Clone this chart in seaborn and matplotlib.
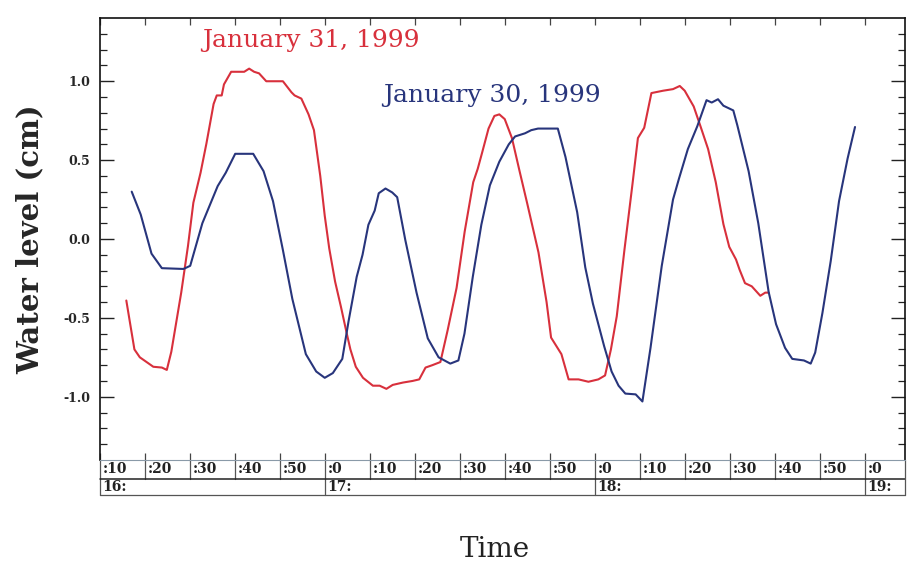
import matplotlib
matplotlib.use('Agg')
import pandas as pd
import matplotlib.pyplot as plt
import seaborn as sns
from matplotlib.transforms import blended_transform_factory

# water level, time in minutes after 16:00
jan31_time = [15.9, 17.7, 18.9, 21.9, 23.8, 24.9, 25.9, 28.1, 29.6, 30.8,
              32.4, 33.7, 35.3, 36.0, 37.1, 37.6, 39.2, 42.1, 43.2, 44.3,
              45.4, 47.0, 50.7, 52.6, 53.3, 54.8, 56.4, 57.6, 59.0, 60.0,
              61.0, 62.3, 63.6, 64.9, 65.7, 66.9, 68.5, 70.7, 72.2, 73.7,
              75.1, 77.4, 79.5, 81.0, 82.4, 83.9, 85.7, 87.3, 89.3, 91.1,
              93.0, 94.0, 95.0, 96.4, 97.7, 98.8, 100.0, 101.6, 103.3, 105.0,
              107.5, 109.3, 110.3, 112.6, 114.2, 116.4, 118.6, 120.8, 122.3, 123.6,
              124.9, 126.6, 128.4, 129.6, 131.0, 132.6, 135.2, 137.4, 138.9, 140.0,
              142.0, 143.5, 145.2, 146.9, 148.6, 149.9, 151.4, 152.2, 153.4, 154.9,
              156.8, 157.9, 158.65]
jan31_level = [-0.39, -0.70, -0.75, -0.81, -0.815, -0.83, -0.715, -0.34, -0.045, 0.23,
               0.42, 0.605, 0.856, 0.91, 0.91, 0.98, 1.06, 1.06, 1.08, 1.06,
               1.05, 1.00, 1.00, 0.93, 0.91, 0.89, 0.79, 0.69, 0.40, 0.147,
               -0.06, -0.27, -0.43, -0.60, -0.70, -0.81, -0.88, -0.93, -0.93, -0.95,
               -0.925, -0.91, -0.90, -0.89, -0.815, -0.80, -0.78, -0.58, -0.31, 0.047,
               0.36, 0.445, 0.55, 0.70, 0.78, 0.79, 0.76, 0.64, 0.43, 0.225,
               -0.085, -0.40, -0.625, -0.73, -0.89, -0.89, -0.905, -0.89, -0.865, -0.70,
               -0.49, -0.07, 0.35, 0.64, 0.705, 0.925, 0.94, 0.95, 0.97, 0.94,
               0.84, 0.715, 0.57, 0.36, 0.094, -0.05, -0.13, -0.195, -0.28, -0.30,
               -0.36, -0.34, -0.34]

jan30_time = [17.1, 19.1, 21.5, 23.8, 28.6, 30.1, 32.8, 36.2, 38.0, 40.1,
              44.1, 46.4, 48.5, 50.7, 52.8, 55.8, 58.1, 60.0, 61.8, 63.9,
              65.3, 67.1, 68.4, 69.7, 71.1, 72.0, 73.5, 75.0, 76.1, 77.9,
              80.4, 82.9, 85.3, 87.9, 89.7, 91.05, 92.9, 94.8, 96.7, 98.8,
              100.9, 102.3, 104.5, 105.9, 107.4, 111.8, 113.5, 116.1, 117.9, 119.6,
              122.1, 123.75, 125.3, 126.8, 129.1, 130.6, 132.4, 134.9, 137.4, 138.7,
              140.7, 142.8, 144.85, 146.0, 147.4, 148.6, 150.8, 151.7, 154.2, 156.35,
              158.65, 160.3, 162.3, 163.9, 166.5, 168.0, 169.0, 170.6, 172.45, 174.3,
              176.2, 177.85]
jan30_level = [0.30, 0.155, -0.093, -0.185, -0.19, -0.17, 0.10, 0.335, 0.42, 0.54,
               0.54, 0.43, 0.24, -0.07, -0.38, -0.73, -0.84, -0.88, -0.85, -0.76,
               -0.52, -0.24, -0.10, 0.09, 0.18, 0.29, 0.32, 0.295, 0.265, -0.006,
               -0.34, -0.63, -0.75, -0.79, -0.77, -0.60, -0.24, 0.09, 0.34, 0.49,
               0.60, 0.65, 0.67, 0.69, 0.70, 0.70, 0.52, 0.17, -0.18, -0.41,
               -0.68, -0.84, -0.93, -0.98, -0.985, -1.03, -0.69, -0.17, 0.25, 0.38,
               0.57, 0.715, 0.88, 0.865, 0.886, 0.845, 0.815, 0.72, 0.43, 0.10,
               -0.335, -0.54, -0.69, -0.76, -0.77, -0.79, -0.72, -0.47, -0.14, 0.24,
               0.51, 0.71]

# time axis table
minute_pos = [10, 20, 30, 40, 50, 60, 70, 80, 90, 100, 110, 120, 130, 140, 150, 160, 170, 180]
minute_labels = [':10', ':20', ':30', ':40', ':50', ':0', ':10', ':20', ':30', ':40', ':50',
                 ':0', ':10', ':20', ':30', ':40', ':50', ':0']
hour_pos = [10, 60, 120, 180]
hour_labels = ['16:', '17:', '18:', '19:']

ytick_pos = [-1.0, -0.5, 0.0, 0.5, 1.0]
ytick_labels = ['-1.0', '-0.5', '0.0', '0.5', '1.0']

red = '#d8303c'
blue = '#28357c'

df = pd.concat([
    pd.DataFrame({'minutes': jan31_time, 'level': jan31_level, 'day': 'January 31, 1999'}),
    pd.DataFrame({'minutes': jan30_time, 'level': jan30_level, 'day': 'January 30, 1999'}),
])

sns.set_style('ticks')
plt.rcParams['font.family'] = ['DejaVu Serif']
plt.rcParams['axes.unicode_minus'] = False

fig = plt.figure(figsize=(9.07, 5.67), dpi=100)
ax = fig.add_axes([0.110, 0.189, 0.888, 0.779])

sns.lineplot(data=df, x='minutes', y='level', hue='day', estimator=None, sort=False,
             palette={'January 31, 1999': red, 'January 30, 1999': blue},
             linewidth=1.5, legend=False, ax=ax)

ax.set_xlim(10, 189)
ax.set_ylim(-1.4, 1.4)

ax.set_yticks(ytick_pos)
ax.set_yticklabels(ytick_labels, fontsize=9, fontweight='bold')
ax.set_yticks([v / 10 for v in range(-13, 14)], minor=True)
ax.tick_params(axis='y', which='major', direction='in', left=True, right=True,
               length=10, width=1.0, color='#222222', pad=7)
ax.tick_params(axis='y', which='minor', direction='in', left=True, right=True,
               length=5, width=0.9, color='#222222')

ax.set_xticks(minute_pos)
ax.set_xticklabels([])
ax.tick_params(axis='x', which='major', direction='in', top=True, bottom=True,
               length=5, width=0.9, color='#444444')
ax.set_xlabel('')

for side in ['left', 'right', 'top']:
    ax.spines[side].set_color('#111111')
    ax.spines[side].set_linewidth(1.2)
ax.spines['bottom'].set_color('#8a9aa8')
ax.spines['bottom'].set_linewidth(0.8)

ax.set_ylabel('Water level (cm)', fontsize=21, fontweight='bold')
ax.yaxis.set_label_coords(-0.068, 0.5)

# two-row time table below the plot
trans = blended_transform_factory(ax.transData, ax.transAxes)
row1 = -0.043
row2 = -0.080
for pos, lab in zip(minute_pos, minute_labels):
    ax.plot([pos, pos], [0, row1], transform=trans, clip_on=False, color='#555555', lw=0.9)
    ax.text(pos + 0.6, row1 / 2, lab, transform=trans, ha='left', va='center',
            fontsize=10, fontweight='bold', color='#222222')
for pos, lab in zip(hour_pos, hour_labels):
    ax.plot([pos, pos], [row1, row2], transform=trans, clip_on=False, color='#555555', lw=0.9)
    ax.text(pos + 0.6, (row1 + row2) / 2, lab, transform=trans, ha='left', va='center',
            fontsize=10, fontweight='bold', color='#222222')
ax.plot([0, 1], [row1, row1], transform=ax.transAxes, clip_on=False, color='#222222', lw=1.1)
ax.plot([0, 1], [row2, row2], transform=ax.transAxes, clip_on=False, color='#555555', lw=0.9)
ax.plot([1, 1], [0, row2], transform=ax.transAxes, clip_on=False, color='#555555', lw=0.9)

ax.text(32.7, 1.26, 'January 31, 1999', color=red, fontsize=18, ha='left', va='center')
ax.text(72.9, 0.91, 'January 30, 1999', color=blue, fontsize=18, ha='left', va='center')

fig.text(0.546, 0.03, 'Time', fontsize=20, ha='center', va='center', color='#222222')

fig.savefig('out.png', dpi=100)
